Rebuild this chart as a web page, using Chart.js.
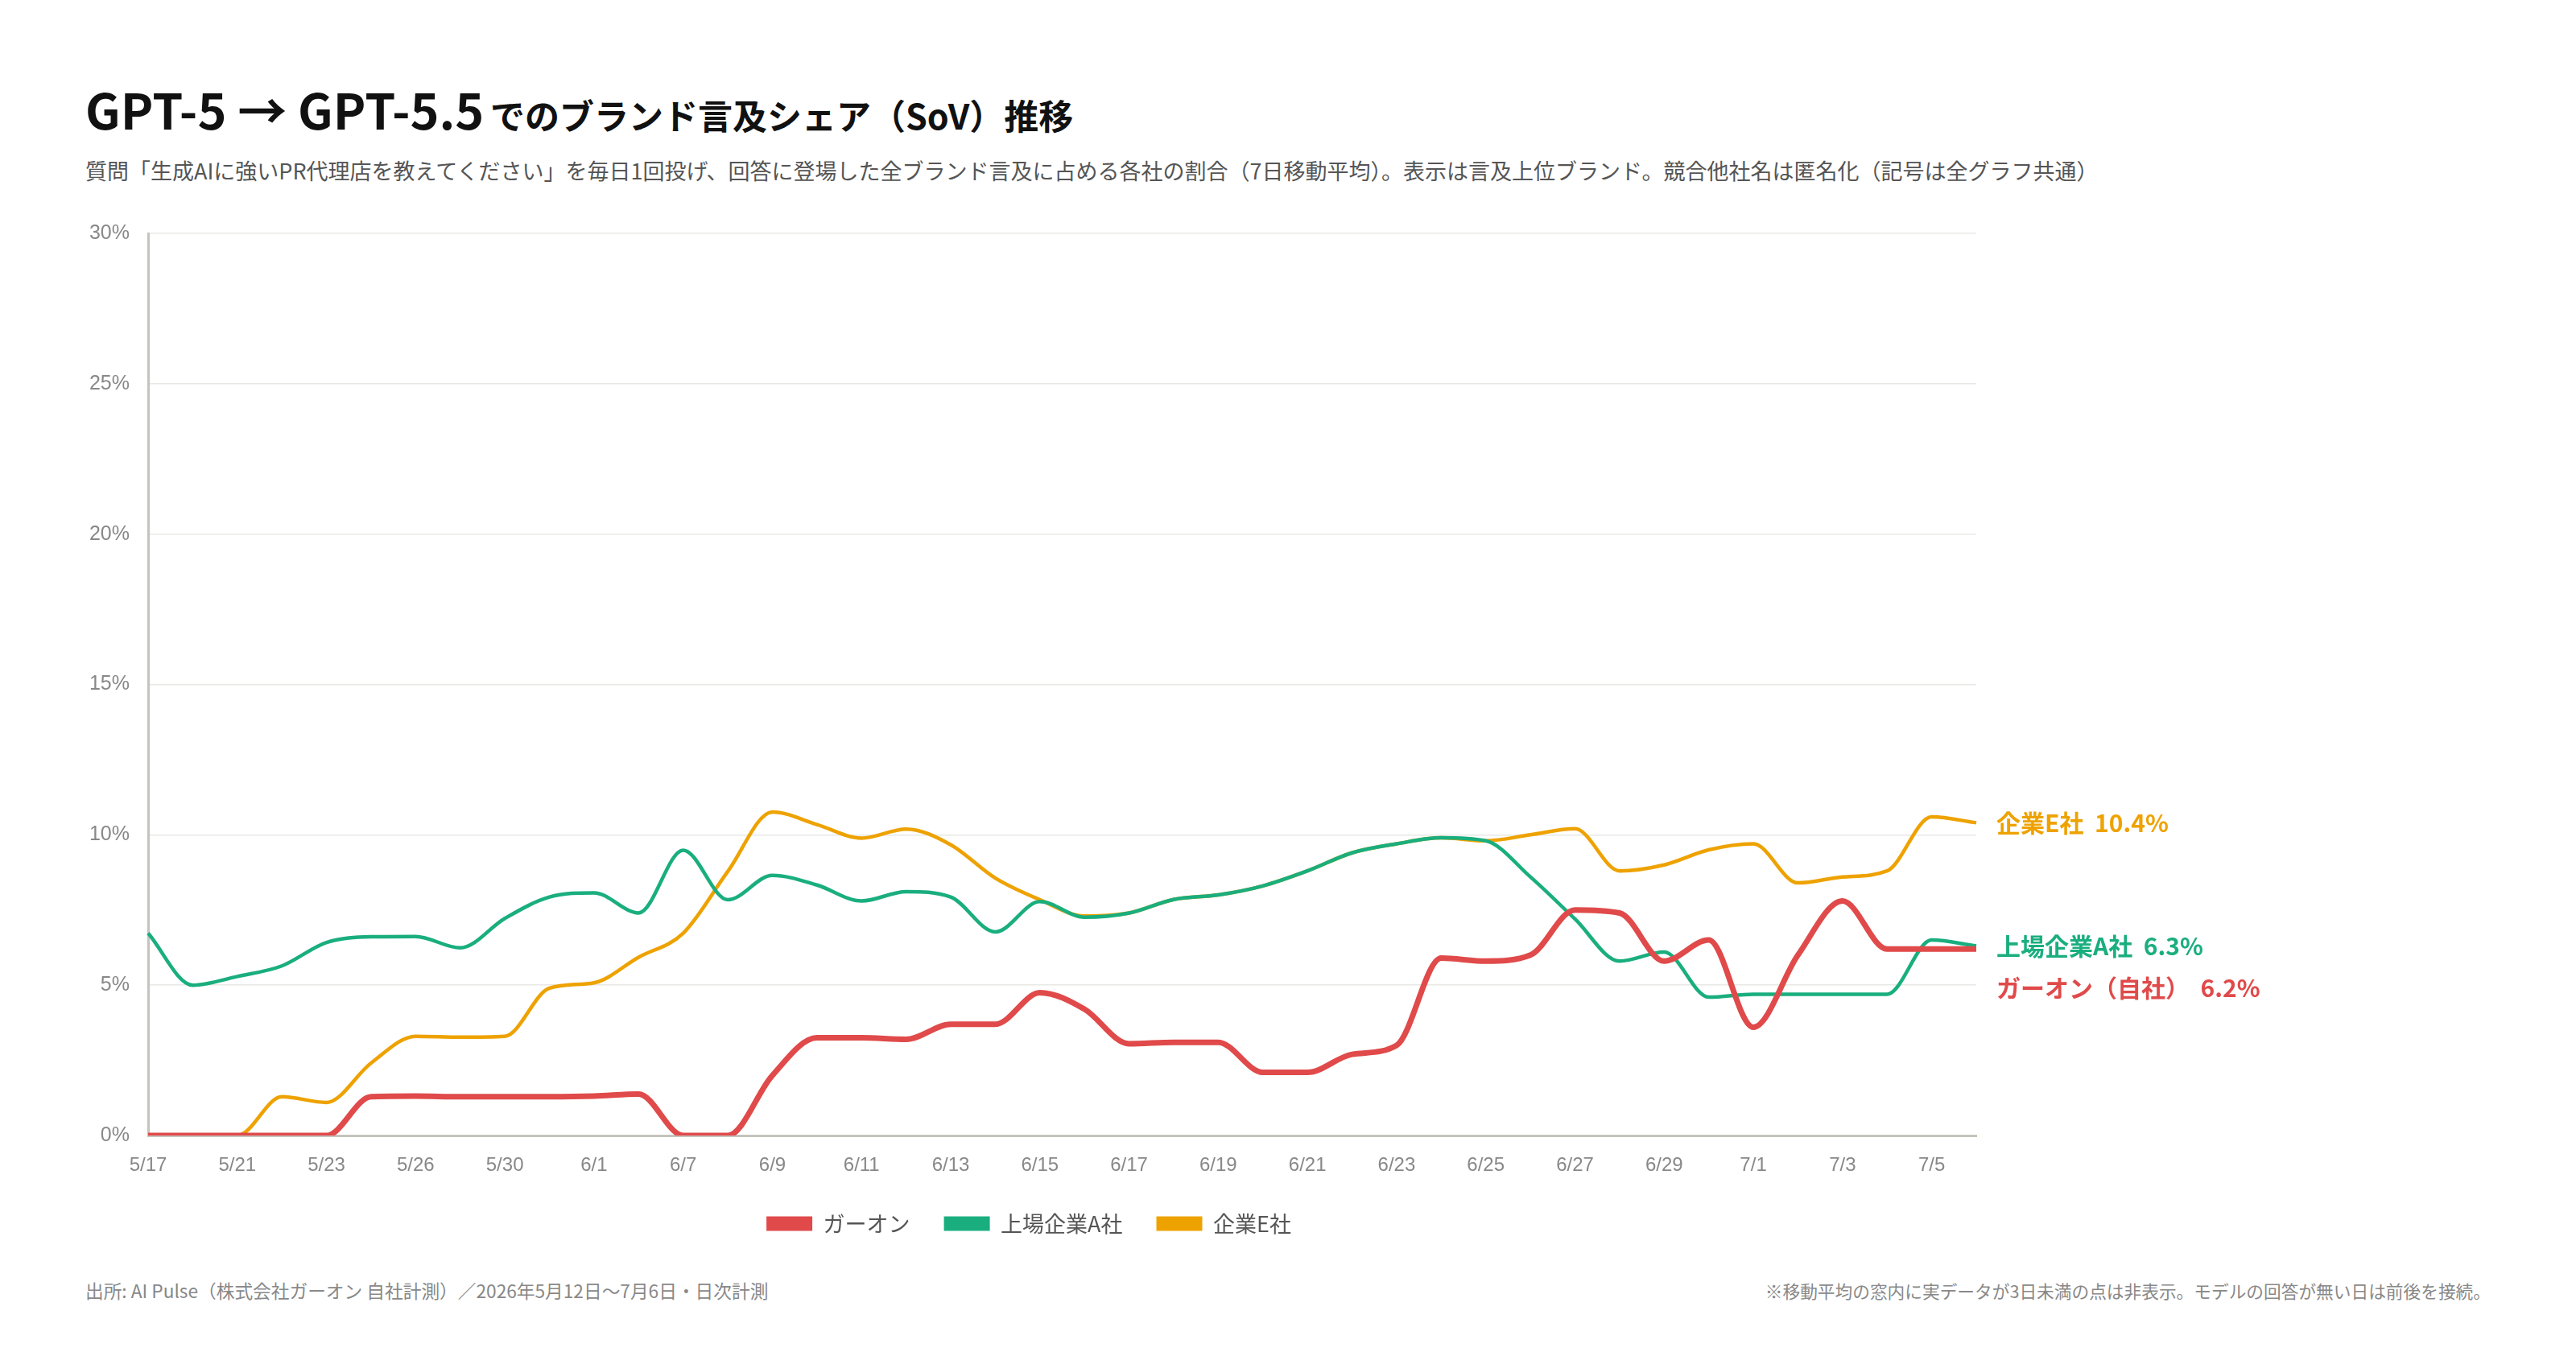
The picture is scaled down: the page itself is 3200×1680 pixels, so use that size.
<!DOCTYPE html>
<html lang="ja">
<head>
<meta charset="utf-8">
<title>GPT-5 → GPT-5.5 SoV</title>
<script src="https://cdn.jsdelivr.net/npm/chart.js@4.4.1/dist/chart.umd.min.js"></script>
<style>
  html, body { margin: 0; padding: 0; background: #fff; }
  body {
    width: 3200px; height: 1680px; position: relative; overflow: hidden;
    font-family: "Noto Sans CJK JP", "Noto Sans", sans-serif;
  }
  #title { position: absolute; left: 106px; top: 97px; font-weight: 700; color: #111; white-space: nowrap; line-height: 76px; }
  #title .en { font-size: 61px; }
  #title .ja { font-size: 43px; margin-left: 4px; }
  #sub { position: absolute; left: 106px; top: 194px; font-size: 27px; color: #555; line-height: 36px; white-space: nowrap; }
  #wrap { position: absolute; left: 0; top: 230px; width: 2900px; height: 1340px; }
  .foot { position: absolute; top: 1590px; font-size: 21.7px; color: #888; line-height: 28px; white-space: nowrap; }
  #src { left: 106px; font-size: 22.7px; }
  #note { right: 106px; }
</style>
</head>
<body>
<div id="title"><span class="en">GPT-5 → GPT-5.5</span> <span class="ja">でのブランド言及シェア（SoV）推移</span></div>
<div id="sub">質問「生成AIに強いPR代理店を教えてください」を毎日1回投げ、回答に登場した全ブランド言及に占める各社の割合（7日移動平均）。表示は言及上位ブランド。競合他社名は匿名化（記号は全グラフ共通）</div>
<div id="wrap"><canvas id="myChart" width="2900" height="1340"></canvas></div>
<div class="foot" id="src">出所: AI Pulse（株式会社ガーオン 自社計測）／2026年5月12日〜7月6日・日次計測</div>
<div class="foot" id="note">※移動平均の窓内に実データが3日未満の点は非表示。モデルの回答が無い日は前後を接続。</div>

<script>
// 日付（回答があった日のみ）
const labels = [
  '5/17', '5/19', '5/21', '5/22', '5/23', '5/25', '5/26', '5/28', '5/30', '5/31',
  '6/1', '6/4', '6/7', '6/8', '6/9', '6/10', '6/11', '6/12', '6/13', '6/14',
  '6/15', '6/16', '6/17', '6/18', '6/19', '6/20', '6/21', '6/22', '6/23', '6/24',
  '6/25', '6/26', '6/27', '6/28', '6/29', '6/30', '7/1', '7/2', '7/3', '7/4',
  '7/5', '7/6'
];

// SoV（%）
const gaon = [
  0, 0, 0, 0, 0, 1.29, 1.31, 1.29, 1.29, 1.29,
  1.31, 1.38, 0, 0, 2.0, 3.25, 3.25, 3.2, 3.7, 3.7,
  4.75, 4.2, 3.05, 3.1, 3.1, 2.1, 2.1, 2.7, 3.0, 5.9,
  5.8, 6.0, 7.5, 7.4, 5.8, 6.5, 3.6, 6.0, 7.8, 6.2,
  6.2, 6.2
];
const companyA = [
  6.73, 5.0, 5.29, 5.64, 6.42, 6.61, 6.62, 6.24, 7.22, 7.93,
  8.07, 7.4, 9.49, 7.84, 8.65, 8.33, 7.8, 8.11, 7.93, 6.77,
  7.78, 7.26, 7.4, 7.85, 8.0, 8.3, 8.8, 9.4, 9.7, 9.9,
  9.8, 8.6, 7.2, 5.8, 6.1, 4.6, 4.7, 4.7, 4.7, 4.7,
  6.5, 6.3
];
const companyE = [
  0, 0, 0, 1.29, 1.1, 2.41, 3.3, 3.27, 3.3, 4.9,
  5.08, 5.93, 6.73, 8.78, 10.76, 10.34, 9.89, 10.19, 9.67, 8.56,
  7.84, 7.3, 7.4, 7.85, 8.0, 8.3, 8.8, 9.4, 9.7, 9.9,
  9.8, 10.0, 10.2, 8.8, 9.0, 9.5, 9.7, 8.4, 8.6, 8.8,
  10.6, 10.4
];

const seriesNames = ['ガーオン', '上場企業A社', '企業E社'];
const endNames = ['ガーオン（自社）', '上場企業A社', '企業E社'];
const colors = ['#E04A4A', '#1AAE7E', '#EEA200'];
const yTicks = [0, 5, 10, 15, 20, 25, 30];

const FONT = '"Noto Sans CJK JP", "Noto Sans", sans-serif';
const TICK_FONT = '"Liberation Sans", Arial, sans-serif';

// 右端のラベル（重なりは下へずらす）
const endLabels = {
  id: 'endLabels',
  afterDatasetsDraw(chart) {
    const c = chart.ctx;
    const items = chart.data.datasets.map((ds, i) => {
      const meta = chart.getDatasetMeta(i);
      const pt = meta.data[meta.data.length - 1];
      const v = ds.data[ds.data.length - 1];
      return { y: pt.y, text: endNames[i] + '  ' + v.toFixed(1) + '%', color: colors[i] };
    }).sort((a, b) => a.y - b.y);
    for (let k = 1; k < items.length; k++) {
      if (items[k].y < items[k - 1].y + 52) items[k].y = items[k - 1].y + 52;
    }
    c.save();
    c.font = 'bold 30px ' + FONT;
    c.textBaseline = 'middle';
    c.textAlign = 'left';
    items.forEach(it => {
      c.fillStyle = it.color;
      c.fillText(it.text, chart.chartArea.right + 25, it.y);
    });
    c.restore();
  }
};

const ctx = document.getElementById('myChart').getContext('2d');
const myChart = new Chart(ctx, {
  type: 'line',
  data: {
    labels: labels,
    datasets: [gaon, companyA, companyE].map((d, i) => ({
      label: seriesNames[i],
      data: d,
      borderColor: colors[i],
      backgroundColor: colors[i],
      borderWidth: i === 0 ? 7 : 4.5,
      pointRadius: 0,
      cubicInterpolationMode: 'monotone',
      fill: false
    }))
  },
  options: {
    responsive: false,
    animation: false,
    devicePixelRatio: 1,
    layout: { padding: { left: 101, right: 445, top: 60, bottom: 26 } },
    scales: {
      x: {
        afterFit: s => { s.height = 54; },
        grid: { display: false, drawTicks: false },
        border: { color: '#c4c4bc', width: 3 },
        ticks: {
          autoSkip: false,
          maxRotation: 0,
          padding: 23,
          color: '#888',
          font: { family: TICK_FONT, size: 24 },
          callback: (v, i) => (i % 2 === 0 ? labels[i] : '')
        }
      },
      y: {
        min: 0,
        max: 30,
        afterFit: s => { s.width = 83; },
        afterBuildTicks: s => { s.ticks = yTicks.map(v => ({ value: v })); },
        grid: { color: '#e8e8e4', lineWidth: 1.5, drawTicks: false },
        border: { color: '#c4c4bc', width: 3 },
        ticks: {
          padding: 23,
          color: '#888',
          font: { family: TICK_FONT, size: 25 },
          callback: v => v + '%'
        }
      }
    },
    plugins: {
      tooltip: { enabled: false },
      legend: {
        position: 'bottom',
        labels: {
          boxWidth: 57,
          boxHeight: 18,
          padding: 42,
          color: '#555',
          font: { family: FONT, size: 27 },
          generateLabels: chart => Chart.defaults.plugins.legend.labels.generateLabels(chart).map(it => {
            it.lineWidth = 0;
            it.strokeStyle = it.fillStyle;
            return it;
          })
        }
      }
    }
  },
  plugins: [endLabels]
});
</script>
</body>
</html>
